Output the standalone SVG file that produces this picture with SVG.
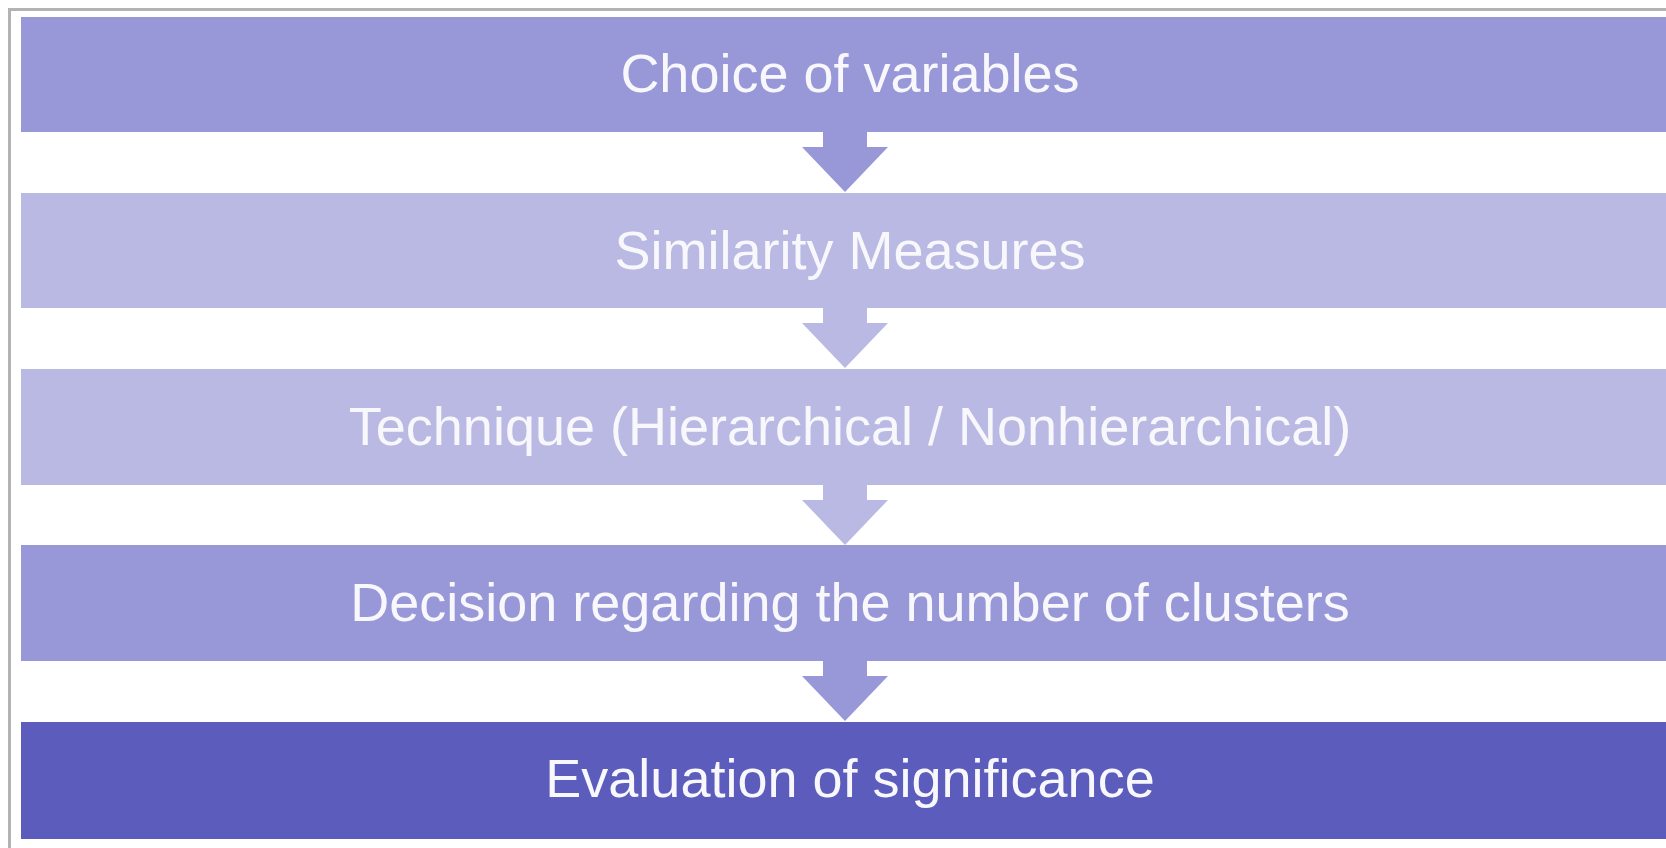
<svg xmlns="http://www.w3.org/2000/svg" width="1666" height="848" viewBox="0 0 1666 848">
  <style>
    .step { stroke: none; }
    .mid { fill: #9897D7; }
    .light { fill: #B9B9E3; }
    .dark { fill: #5C5CBD; }
    .label { font-family: "Liberation Sans", Arial, sans-serif; font-size: 54px; fill: #F7F7FC; text-anchor: middle; }
  </style>
  <defs>
    <!-- down arrow: stem from parent box bottom, head ends at next box top -->
    <path id="down" d="M823,0 H867 V16 H888 L845,61 L802,16 H823 Z"/>
  </defs>
  <rect width="1666" height="848" fill="#FFFFFF"/>
  <!-- outer frame -->
  <path d="M9.5,860 V9.5 H1680" fill="none" stroke="#B3B3B3" stroke-width="3"/>

  <g id="connectors">
    <use href="#down" class="mid" y="131"/>
    <use href="#down" class="light" y="307"/>
    <use href="#down" class="light" y="484"/>
    <use href="#down" class="mid" y="660"/>
  </g>

  <g id="node-choice">
    <rect class="step mid" x="21" y="17" width="1660" height="115"/>
    <text class="label" x="850" y="92">Choice of variables</text>
  </g>
  <g id="node-similarity">
    <rect class="step light" x="21" y="193" width="1660" height="115"/>
    <text class="label" x="850" y="269">Similarity Measures</text>
  </g>
  <g id="node-technique">
    <rect class="step light" x="21" y="369" width="1660" height="116"/>
    <text class="label" x="850" y="445">Technique (Hierarchical / Nonhierarchical)</text>
  </g>
  <g id="node-decision">
    <rect class="step mid" x="21" y="545" width="1660" height="116"/>
    <text class="label" x="850" y="621">Decision regarding the number of clusters</text>
  </g>
  <g id="node-evaluation">
    <rect class="step dark" x="21" y="722" width="1660" height="117"/>
    <text class="label" x="850" y="797">Evaluation of significance</text>
  </g>
</svg>
